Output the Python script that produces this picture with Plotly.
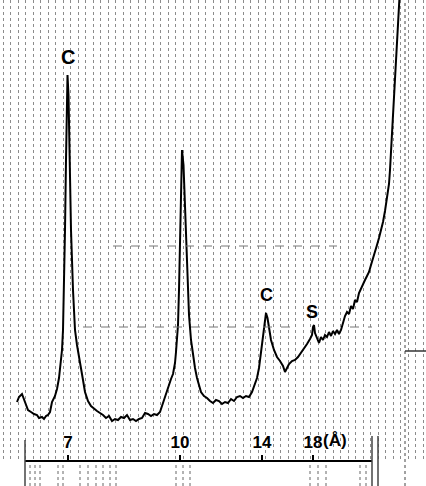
import plotly.graph_objects as go

# Chart position (horizontal, along the recorder chart) and recorded intensity
chart_pos = [17, 19, 22, 25, 28, 31, 34, 37, 39, 42, 44, 46, 48, 50, 52, 55, 57, 59, 60, 62,
             63, 64, 65, 66, 67, 67.5, 68.5, 69.5, 71, 73, 75, 77, 79, 81, 83, 85, 88, 91, 94, 97,
             100, 103, 106, 109, 112, 115, 118, 121, 124, 127, 130, 133, 136, 139, 142, 145, 148, 151, 154, 157,
             160, 163, 165, 167, 169, 171, 173, 175, 176, 177, 178, 179, 180, 181, 182, 183.5, 185, 187, 189, 191,
             193, 195, 197, 199, 201, 204, 207, 210, 213, 216, 219, 222, 225, 228, 231, 234, 237, 240, 243, 246,
             249, 252, 255, 257, 259, 261, 263, 264.5, 266, 267.5, 269, 271, 274, 277, 280, 283, 285, 287, 289, 292,
             295, 298, 301, 304, 307, 310, 312, 313, 314, 315, 317, 319, 321, 323, 325, 327, 329, 331, 333, 335,
             337, 339, 341, 343, 345, 347, 349, 351, 353, 355, 357, 359, 361, 363, 365, 367, 369, 371, 373, 375,
             377, 379, 381, 383, 385, 387, 389, 390, 391, 392, 393, 394, 395, 396, 397, 398, 399, 400]
trace_ypix = [402, 397, 394, 403, 410, 412, 414, 415, 418, 417, 419, 416, 415, 412, 402, 396, 389, 378, 368, 350,
              330, 290, 230, 160, 100, 75, 95, 160, 230, 290, 330, 345, 358, 368, 380, 392, 401, 406, 409, 411,
              413, 415, 418, 416, 421, 419, 420, 417, 418, 415, 420, 419, 421, 419, 418, 413, 414, 416, 414, 415,
              412, 403, 397, 390, 383, 379, 374, 363, 352, 340, 325, 290, 230, 175, 150, 165, 210, 270, 315, 340,
              357, 368, 378, 385, 392, 396, 398, 401, 403, 400, 401, 404, 402, 403, 399, 401, 397, 396, 398, 396,
              397, 392, 384, 378, 368, 353, 337, 322, 313, 318, 328, 340, 350, 357, 361, 366, 372, 368, 364, 361,
              360, 357, 353, 348, 344, 339, 335, 327, 325, 333, 338, 343, 337, 340, 335, 337, 332, 336, 331, 334,
              330, 334, 330, 323, 316, 312, 314, 306, 309, 300, 302, 293, 288, 284, 280, 276, 272, 265, 259, 252,
              245, 238, 231, 222, 211, 199, 184, 170, 150, 130, 110, 90, 70, 50, 30, 15, 0, -12]
intensity = [461 - v for v in trace_ypix]

tick_pos = [68, 180, 262, 313]
tick_labels = ["7", "10", "14", "18"]
unit_label = "(Å)"

peak_labels = ["C", "C", "S"]
peak_label_pos = [68, 266, 312]
peak_label_int = [404, 166, 149]
peak_label_size = [20, 18, 18]

FONT = "Liberation Sans, Arial, sans-serif"

fig = go.Figure()
fig.add_trace(go.Scatter(x=chart_pos, y=intensity, mode="lines",
                         line=dict(color="black", width=2), hoverinfo="skip",
                         showlegend=False))

for t, xp, yp, fs in zip(peak_labels, peak_label_pos, peak_label_int, peak_label_size):
    fig.add_annotation(x=xp, y=yp, text="<b>%s</b>" % t, showarrow=False,
                       font=dict(family=FONT, size=fs, color="black"))

fig.add_annotation(x=335, y=21, text="<b>%s</b>" % unit_label, showarrow=False,
                   font=dict(family=FONT, size=17, color="black"))

shapes = []
# baseline of the chart scale
shapes.append(dict(type="line", xref="x", yref="paper", x0=25, x1=372, y0=0, y1=0,
                   line=dict(color="black", width=2)))
# chart-paper frame / edge lines
for xv, y0p, y1p, w in [(25, 486, 440, 1.5), (372, 486, 436, 1.5), (378, 486, 436, 1.5),
                        (405, 486, 0, 1)]:
    shapes.append(dict(type="line", xref="x", yref="paper", x0=xv, x1=xv,
                       y0=(461 - y0p) / 461, y1=(461 - y1p) / 461,
                       line=dict(color="#444", width=w, dash="dot" if xv == 405 else "solid")))
# faint horizontal chart-paper lines
for y_pix, xa, xb in [(246, 113, 337), (327, 83, 290), (327, 350, 372)]:
    shapes.append(dict(type="line", xref="x", yref="paper", x0=xa, x1=xb,
                       y0=(461 - y_pix) / 461, y1=(461 - y_pix) / 461,
                       line=dict(color="#777", width=1, dash="dash")))
shapes.append(dict(type="line", xref="x", yref="paper", x0=405, x1=426,
                   y0=(461 - 351) / 461, y1=(461 - 351) / 461,
                   line=dict(color="#333", width=1.5)))
# chart-paper rulings below the baseline
for xv in [30, 35, 40, 58, 63, 80, 88, 96, 103, 110, 116, 176, 183, 190, 310, 318, 326, 360, 366]:
    shapes.append(dict(type="line", xref="x", yref="paper", x0=xv, x1=xv,
                       y0=-25 / 461, y1=-4 / 461,
                       line=dict(color="#666", width=1, dash="dot")))

fig.update_layout(
    width=426, height=486,
    margin=dict(l=0, r=0, t=0, b=25),
    paper_bgcolor="white", plot_bgcolor="white",
    shapes=shapes,
    xaxis=dict(range=[0, 426], tickmode="array", tickvals=tick_pos,
               ticktext=["<b>%s</b>" % s for s in tick_labels],
               ticks="inside", ticklen=6, tickwidth=2, tickcolor="black",
               ticklabelposition="inside", ticklabelstandoff=4,
               tickfont=dict(family=FONT, size=17, color="black"),
               showline=False, showgrid=False, zeroline=False,
               minor=dict(tickmode="linear", tick0=3, dtick=7.5, showgrid=True,
                          gridcolor="#8c8c8c", griddash="dot", gridwidth=1, ticks="")),
    yaxis=dict(range=[0, 461], visible=False, showgrid=False, zeroline=False),
)

fig.write_html("out.html")
